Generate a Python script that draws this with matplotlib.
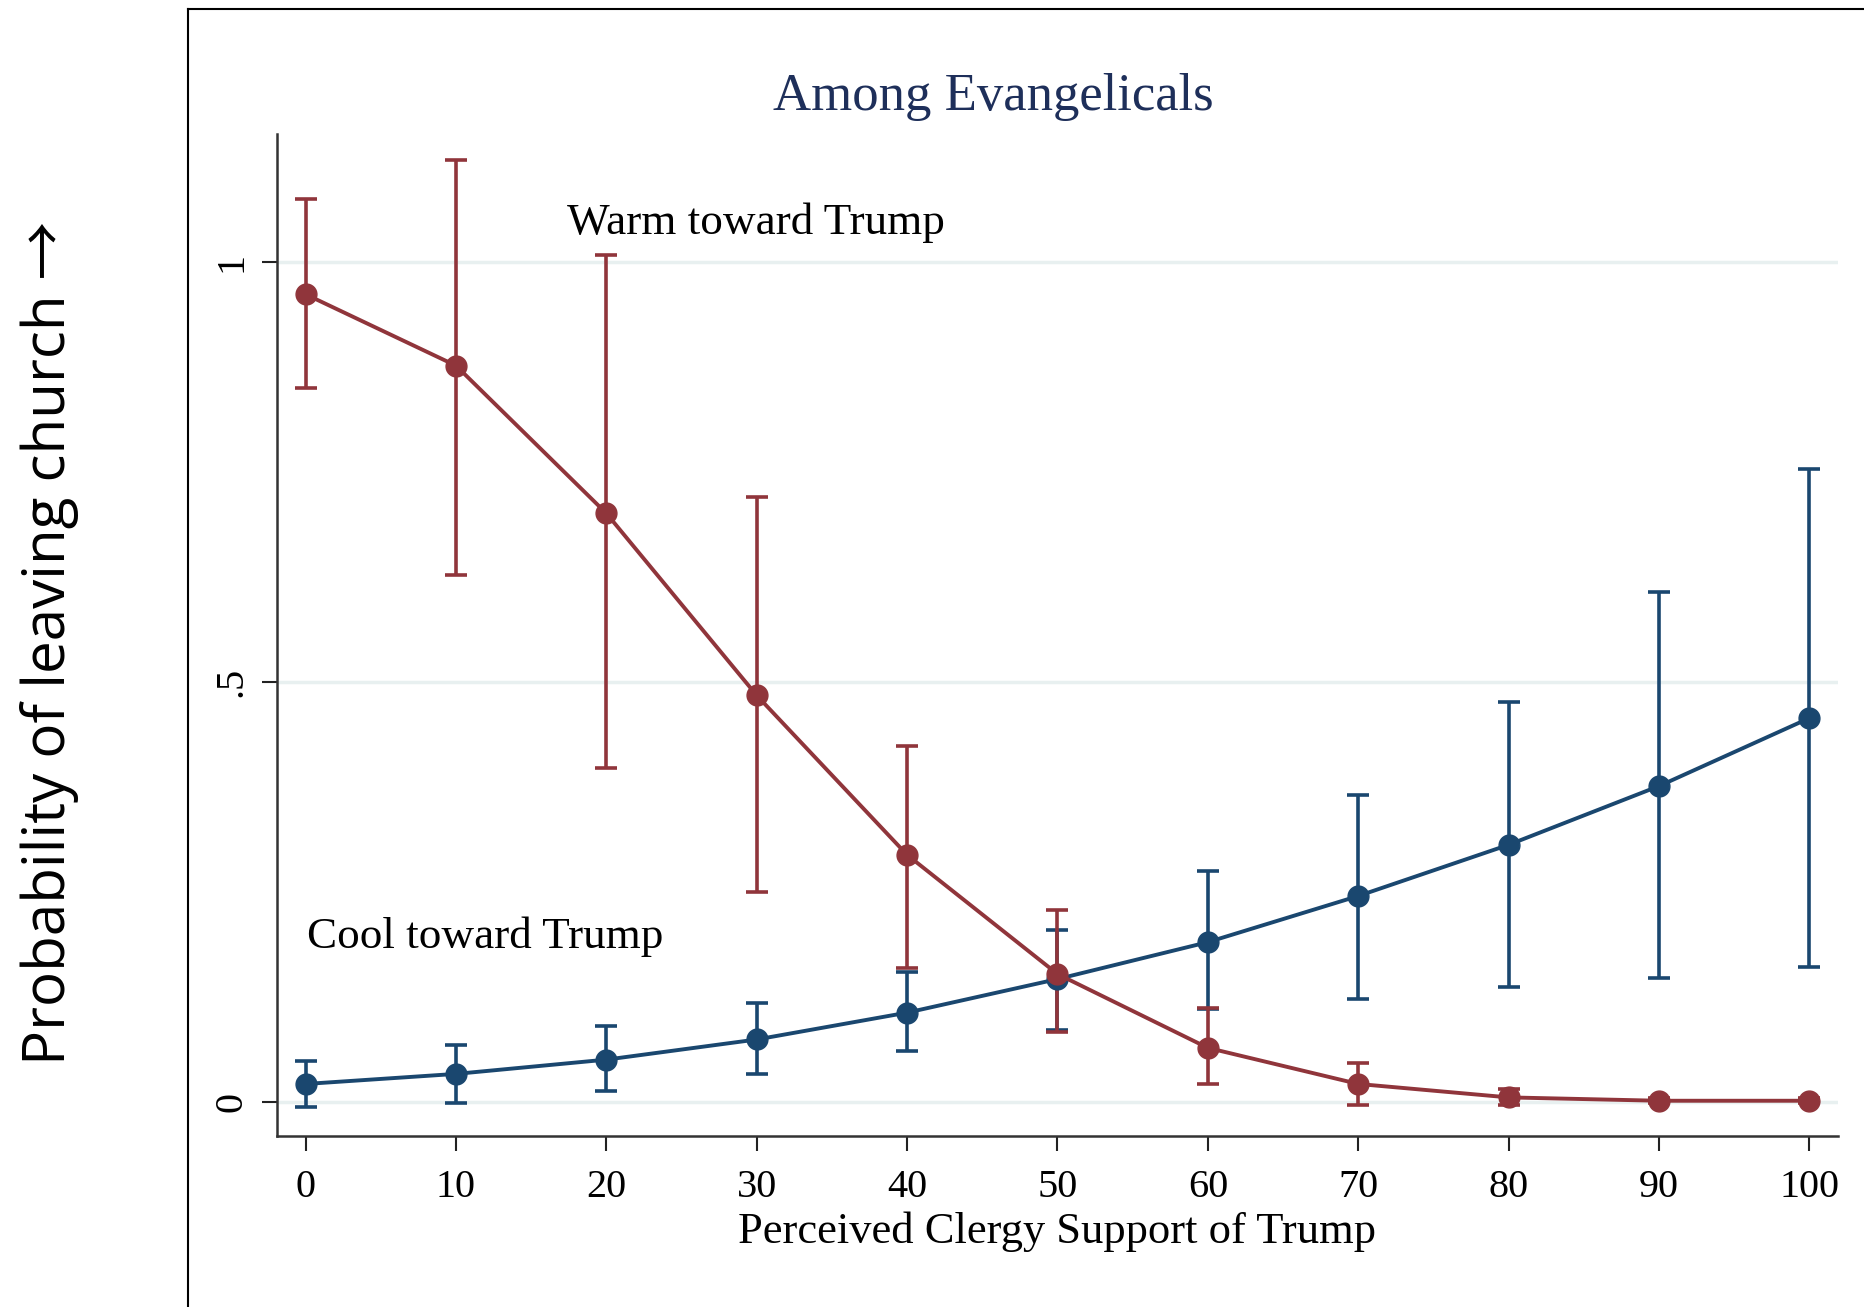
import numpy as np
import matplotlib.pyplot as plt
from matplotlib.lines import Line2D

plt.rcParams.update({
    "font.family": "Liberation Serif",
    "font.size": 28,
})

# perceived clergy support of Trump
support = [0, 10, 20, 30, 40, 50, 60, 70, 80, 90, 100]

# warm toward Trump
warm = [0.962, 0.877, 0.701, 0.484, 0.294, 0.152, 0.064, 0.021, 0.005, 0.001, 0.001]
warm_lo = [0.850, 0.628, 0.397, 0.250, 0.159, 0.083, 0.021, -0.004, -0.004, -0.002, -0.002]
warm_hi = [1.075, 1.122, 1.009, 0.721, 0.424, 0.228, 0.111, 0.046, 0.0155, 0.004, 0.004]

# cool toward Trump
cool = [0.021, 0.033, 0.050, 0.074, 0.106, 0.146, 0.190, 0.245, 0.306, 0.376, 0.457]
cool_lo = [-0.006, -0.002, 0.013, 0.033, 0.060, 0.085, 0.110, 0.122, 0.136, 0.147, 0.160]
cool_hi = [0.048, 0.068, 0.090, 0.117, 0.154, 0.205, 0.275, 0.365, 0.476, 0.607, 0.754]

yticks = [0, 0.5, 1]
yticklabels = ["0", ".5", "1"]

red = "#90353b"
blue = "#1a476f"

W, H = 1865, 1307
fig = plt.figure(figsize=(W / 100, H / 100), dpi=100)
ax = fig.add_axes([277 / W, 1 - 1136 / H, (1838 - 277) / W, (1136 - 134) / H])

for y in yticks:
    ax.axhline(y, color="#e8f0f0", lw=2.5, zorder=0)

for m, lo, hi, c in [(cool, cool_lo, cool_hi, blue), (warm, warm_lo, warm_hi, red)]:
    m = np.array(m)
    err = [m - np.array(lo), np.array(hi) - m]
    ax.errorbar(support, m, yerr=err, color=c, lw=2.8, marker="o", ms=15,
                elinewidth=2.6, capsize=8, capthick=2.6)

ax.text(17.4, 1.047, "Warm toward Trump", fontsize=32.5, va="center", ha="left")
ax.text(0.1, 0.196, "Cool toward Trump", fontsize=32.5, va="center", ha="left")

ax.set_xlim(-1.9, 101.9)
ax.set_ylim(-0.041, 1.153)
ax.set_xticks(support)
ax.set_yticks(yticks)
ax.set_yticklabels(yticklabels, rotation=90, va="center")
ax.tick_params(axis="both", length=11, width=1.5, color="#222222", labelsize=29)
ax.tick_params(axis="x", pad=13)
ax.tick_params(axis="y", pad=8)
for s in ["top", "right"]:
    ax.spines[s].set_visible(False)
for s in ["left", "bottom"]:
    ax.spines[s].set_linewidth(1.8)
    ax.spines[s].set_color("#333333")

ax.set_xlabel("Perceived Clergy Support of Trump", fontsize=32, labelpad=4)
fig.text(993 / W, 1 - 97 / H, "Among Evangelicals", fontsize=38, color="#1e2f5a",
         ha="center", va="center")

fig.text(50 / W, 1 - 643 / H, "Probability of leaving church \u2192",
         family=["Open Sans", "Noto Sans CJK SC", "DejaVu Sans"],
         fontsize=42, rotation=90, ha="center", va="center")

# outer graph frame
fig.add_artist(Line2D([188 / W, 188 / W], [0, 1 - 9 / H], color="black", lw=1.5))
fig.add_artist(Line2D([188 / W, 1], [1 - 9 / H, 1 - 9 / H], color="black", lw=1.5))

fig.savefig("out.png", dpi=100)
